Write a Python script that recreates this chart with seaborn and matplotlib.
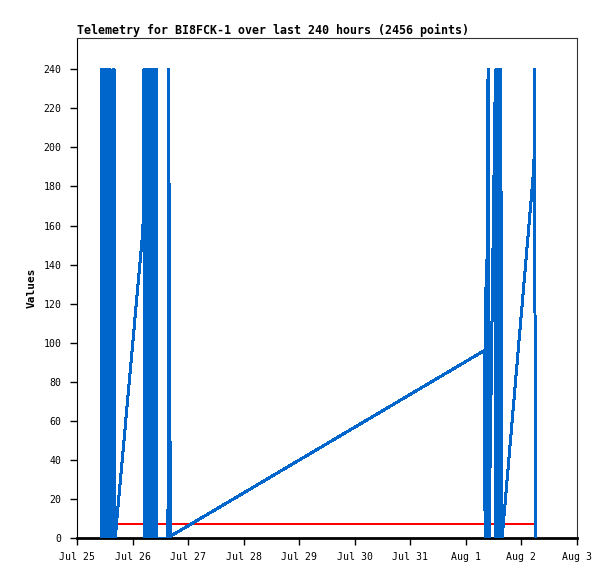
import matplotlib
matplotlib.use("Agg")
import matplotlib.pyplot as plt
import seaborn as sns
import pandas as pd

sns.set_theme(style="white")
plt.rcParams['font.family'] = ['DejaVu Sans Mono', 'DejaVu Sans']
plt.rcParams['text.color'] = 'black'
plt.rcParams['axes.labelcolor'] = 'black'
plt.rcParams['xtick.color'] = 'black'
plt.rcParams['ytick.color'] = 'black'

# hours after Jul 25 00:00 and telemetry values
hours = [
    10.5, 10.7, 10.9, 11.1, 11.3, 11.5, 11.7, 11.9, 12.1, 12.3,
    12.5, 12.7, 12.9, 13.1, 13.3, 13.5, 13.7, 13.9, 14.1,
    14.2, 15.4, 15.55, 15.8, 16.0, 16.2, 16.5, 28.5,
    28.9, 29.1, 29.3, 29.5, 29.7, 29.9, 30.1, 30.3, 30.5, 30.7,
    30.9, 31.0, 31.3, 31.5, 31.8,
    32.0, 32.2, 32.4, 32.6, 32.8, 33.0, 33.2, 33.4, 33.6, 33.8,
    34.0, 34.2, 34.4, 34.6,
    39.3, 39.5, 40.0, 40.3, 40.5, 176.0,
    176.3, 176.6, 176.9, 177.2, 177.6, 178.0,
    180.6, 180.8, 181.0, 181.2, 181.4, 181.6, 181.8, 182.0, 182.2, 182.4,
    182.6, 182.8, 183.0, 183.2, 183.4, 183.6, 184.0, 197.4, 197.7, 198.0,
]
values = [
    0, 240, 0, 240, 0, 240, 0, 240, 0, 240,
    0, 240, 0, 240, 0, 240, 0, 240, 240,
    0, 0, 240, 0, 240, 0, 0, 158,
    240, 0, 240, 0, 240, 0, 240, 0, 240, 0,
    240, 0, 145, 40, 200,
    0, 240, 0, 240, 0, 240, 0, 240, 0, 240,
    0, 240, 0, 0,
    0, 240, 121, 0, 1, 96,
    0, 128, 0, 194, 240, 0,
    225, 0, 240, 0, 240, 0, 240, 0, 240, 0,
    240, 0, 240, 0, 177, 0, 5, 190, 240, 0,
]
threshold = 7
title = "Telemetry for BI8FCK-1 over last 240 hours (2456 points)"
tick_days = ["2024-07-25", "2024-07-26", "2024-07-27", "2024-07-28", "2024-07-29",
             "2024-07-30", "2024-07-31", "2024-08-01", "2024-08-02", "2024-08-03"]
tick_labels = ["Jul 25", "Jul 26", "Jul 27", "Jul 28", "Jul 29",
               "Jul 30", "Jul 31", "Aug 1", "Aug 2", "Aug 3"]

start = pd.Timestamp("2024-07-25")
df = pd.DataFrame({"time": start + pd.to_timedelta(hours, unit="h"), "value": values})

fig = plt.figure(figsize=(6.15, 5.79), dpi=100)
ax = fig.add_axes([77/615, 1-538/579, 500/615, 500/579])

ax.hlines(threshold, df["time"].iloc[0], df["time"].iloc[-1], color="#ff0000", lw=1.44, zorder=2)
sns.lineplot(data=df, x="time", y="value", ax=ax, color="#0066cc", lw=1.44,
             estimator=None, sort=False, zorder=3)
for l in ax.lines:
    l.set_antialiased(False)
for c in ax.collections:
    c.set_antialiased(False)

ticks = pd.to_datetime(tick_days)
ax.set_xlim(ticks[0], ticks[-1])
ax.set_xticks(ticks)
ax.set_xticklabels(tick_labels)
ax.set_ylim(0, 256)
ax.set_yticks(range(0, 241, 20))

ax.set_xlabel("")
ax.set_ylabel("Values", fontsize=8, fontweight="bold", labelpad=5)
ax.set_title(title, loc="left", fontsize=8.35, fontweight="bold", pad=3)

ax.tick_params(axis="both", direction="out", length=5, width=1,
               labelsize=7.1, left=True, bottom=True)
ax.tick_params(axis="y", pad=6)
ax.tick_params(axis="x", pad=5)

for s in ["top", "right"]:
    ax.spines[s].set_color("#333333")
    ax.spines[s].set_linewidth(0.8)
ax.spines["left"].set_color("black")
ax.spines["left"].set_linewidth(0.8)
ax.spines["bottom"].set_color("black")
ax.spines["bottom"].set_linewidth(2)

fig.savefig("out.png", dpi=100)
